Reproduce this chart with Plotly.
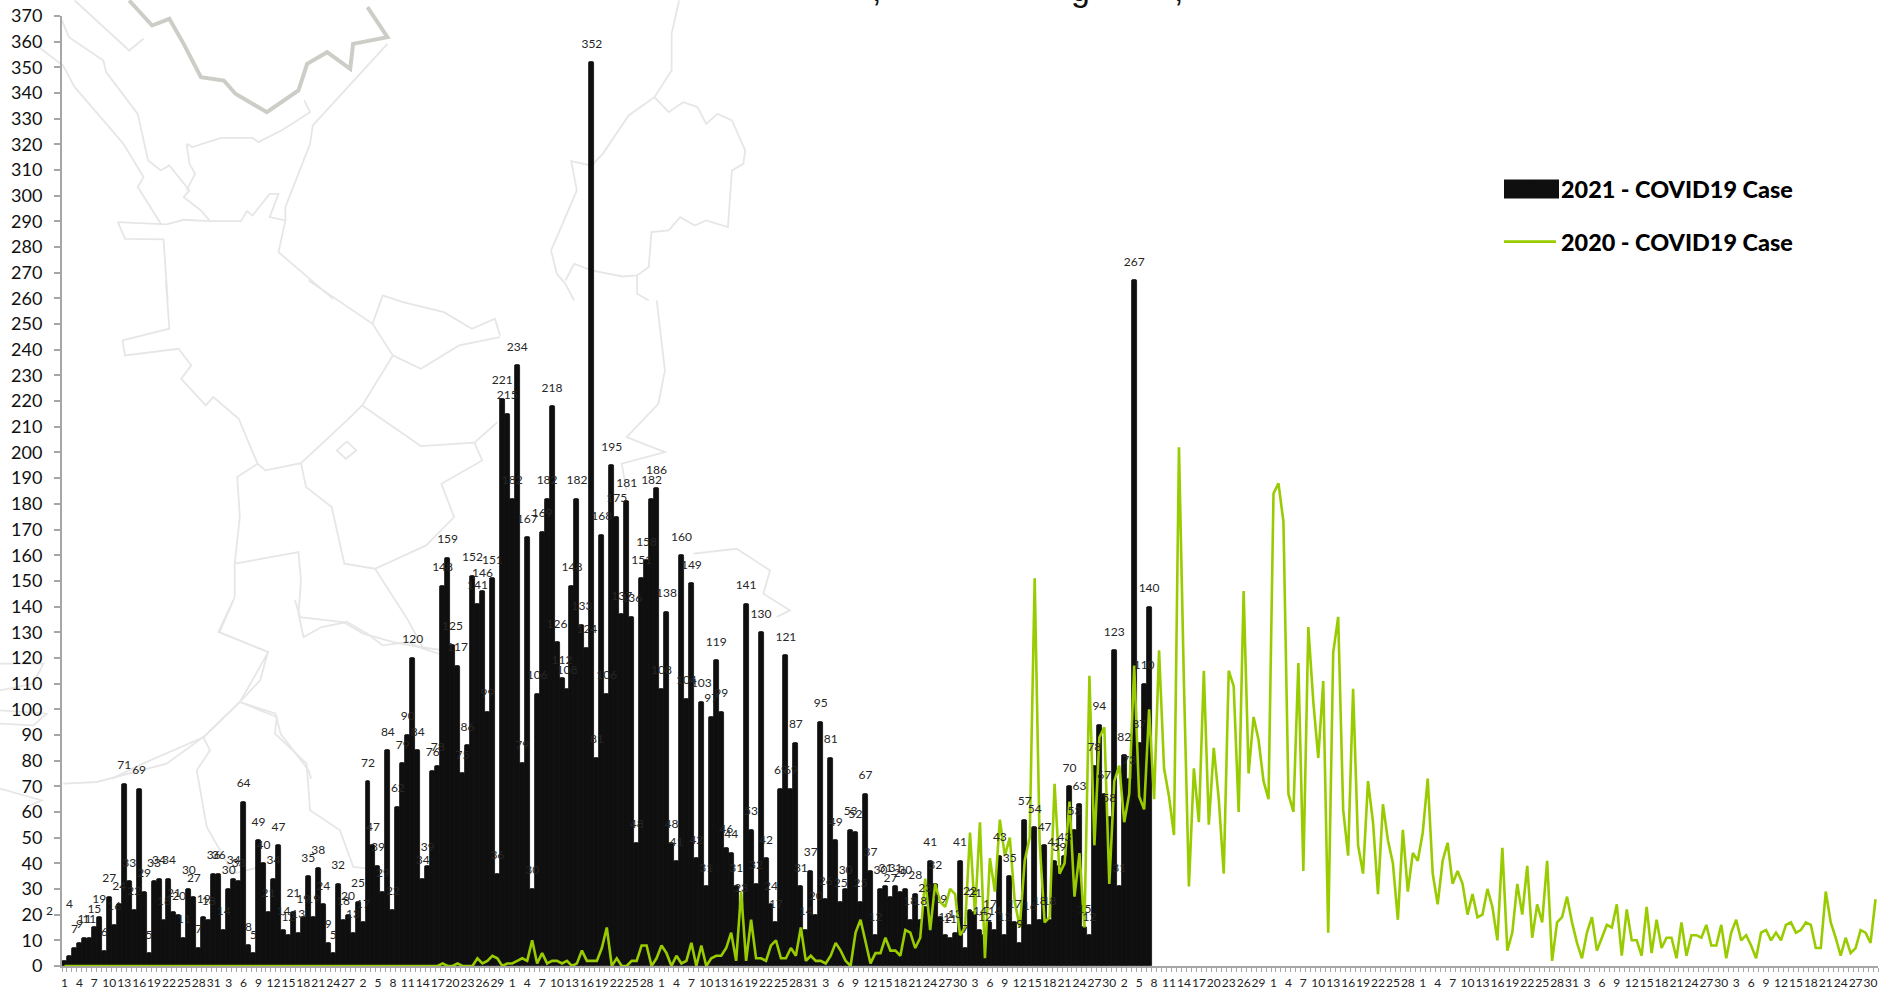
import plotly.graph_objects as go

month_days = [31, 28, 31, 30, 31, 30, 31, 31, 30, 31, 30, 31]

cases_2021 = [
    2, 4, 7, 9, 11, 11, 15, 19, 6, 27, 16, 24, 71, 33, 22, 69, 29, 5, 33, 34,
    18, 34, 21, 20, 11, 30, 27, 7, 19, 18, 36, 36, 14, 30, 34, 33, 64, 8, 5, 49,
    40, 21, 34, 47, 14, 12, 21, 13, 19, 35, 19, 38, 24, 9, 5, 32, 18, 20, 13, 25,
    17, 72, 47, 39, 29, 84, 22, 62, 79, 90, 120, 84, 34, 39, 76, 78, 148, 159, 125, 117,
    75, 86, 152, 141, 146, 99, 151, 36, 221, 215, 182, 234, 79, 167, 30, 106, 169, 182, 218, 126,
    112, 108, 148, 182, 133, 124, 352, 81, 168, 106, 195, 175, 137, 181, 136, 48, 151, 158, 182, 186,
    108, 138, 48, 41, 160, 104, 149, 42, 103, 31, 97, 119, 99, 46, 44, 31, 23, 141, 53, 32,
    130, 42, 24, 17, 69, 121, 69, 87, 31, 14, 37, 20, 95, 26, 81, 49, 25, 30, 53, 52,
    25, 67, 37, 12, 30, 31, 27, 31, 29, 30, 18, 28, 18, 23, 41, 32, 19, 12, 11, 13,
    41, 7, 22, 21, 14, 12, 17, 14, 43, 12, 35, 17, 9, 57, 16, 54, 18, 47, 18, 41,
    39, 43, 70, 53, 63, 15, 12, 78, 94, 67, 58, 123, 31, 82, 73, 267, 87, 110, 140,
]

cases_2020 = [
    0, 0, 0, 0, 0, 0, 0, 0, 0, 0, 0, 0, 0, 0, 0, 0, 0, 0, 0, 0,
    0, 0, 0, 0, 0, 0, 0, 0, 0, 0, 0, 0, 0, 0, 0, 0, 0, 0, 0, 0,
    0, 0, 0, 0, 0, 0, 0, 0, 0, 0, 0, 0, 0, 0, 0, 0, 0, 0, 0, 0,
    0, 0, 0, 0, 0, 0, 0, 0, 0, 0, 0, 0, 0, 0, 0, 0, 1, 0, 0, 1,
    0, 0, 0, 3, 1, 2, 4, 3, 0, 1, 1, 2, 3, 2, 10, 1, 5, 1, 2, 2,
    1, 2, 0, 1, 6, 2, 2, 2, 7, 15, 0, 3, 0, 0, 2, 2, 8, 8, 0, 3,
    8, 5, 0, 4, 1, 2, 9, 0, 8, 0, 3, 4, 4, 7, 13, 2, 29, 2, 18, 3,
    3, 2, 8, 10, 3, 3, 7, 4, 15, 2, 4, 2, 2, 1, 4, 9, 6, 2, 0, 13,
    18, 9, 1, 5, 5, 11, 6, 6, 4, 14, 13, 7, 11, 34, 14, 32, 25, 23, 30, 28,
    12, 15, 52, 20, 56, 3, 42, 29, 57, 43, 50, 25, 15, 41, 50, 151, 48, 17, 19, 71,
    36, 40, 64, 27, 44, 15, 113, 47, 89, 93, 32, 72, 78, 56, 67, 117, 66, 61, 100, 65,
    123, 77, 66, 51, 202, 110, 31, 77, 56, 115, 55, 85, 65, 36, 115, 109, 60, 146, 75, 97,
    88, 72, 65, 184, 188, 173, 67, 60, 118, 37, 132, 103, 81, 111, 13, 122, 136, 61, 43, 108,
    47, 36, 72, 56, 28, 63, 49, 40, 18, 53, 29, 44, 41, 52, 73, 36, 24, 41, 48, 32,
    37, 32, 20, 28, 19, 20, 30, 23, 10, 46, 6, 13, 32, 20, 39, 11, 24, 17, 41, 2,
    17, 19, 27, 17, 9, 3, 13, 19, 6, 11, 16, 15, 24, 4, 22, 10, 10, 4, 23, 5,
    18, 7, 11, 11, 3, 17, 4, 12, 12, 11, 16, 8, 8, 16, 3, 13, 18, 10, 12, 8,
    3, 13, 14, 10, 13, 10, 16, 17, 13, 14, 17, 16, 7, 7, 29, 17, 11, 4, 11, 5,
    7, 14, 13, 9, 26,
]

series_2021 = "2021 - COVID19 Case"
series_2020 = "2020 - COVID19 Case"
title_fragments = [",", "g", ","]

assert len(cases_2021) == 219, len(cases_2021)
assert len(cases_2020) == 365, len(cases_2020)

day_labels = [str(d) for m in month_days for d in range(1, m + 1)]
x = list(range(len(day_labels)))
tick_idx = x[::3]
tick_text = day_labels[::3]

W, H = 1881, 991
L, R, T, B = 62, 1878, 15.5, 965.7


def px(xp):
    return (xp - L) / (R - L)


def py(yp):
    return 1 - (yp - T) / (B - T)


def from_zoom(points, sx, sy, x0=0, y0=0):
    return [(x0 + a / sx, y0 + b / sy) for a, b in points]


def path(points):
    return "M " + " L ".join(f"{px(a):.4f} {py(b):.4f}" for a, b in points)


# Decorative background map outline
z6 = dict(sx=1.742, sy=3)
z11 = dict(sx=1.96, sy=3, y0=280)
z1 = dict(sx=3, sy=3, y0=600)
z2 = dict(sx=3, sy=3, x0=400, y0=300)
map_light = [
    from_zoom(p, **z6) for p in [
        [(108, 60), (120, 110), (180, 180), (185, 215), (240, 340), (258, 480), (280, 510), (295, 495), (330, 570), (320, 590), (350, 630), (365, 660)],
        [(130, 0), (225, 150), (250, 115)],
        [(60, 130), (110, 195), (130, 260), (215, 430), (250, 530), (240, 560), (280, 670)],
        [(205, 665), (290, 672), (320, 658), (365, 662), (420, 662), (430, 632), (440, 645), (470, 580), (485, 580), (470, 650), (497, 660), (485, 755), (580, 895)],
        [(205, 665), (218, 715), (285, 717), (292, 900)],
        [(675, 130), (545, 375), (540, 430), (497, 620), (497, 660)],
        [(325, 430), (335, 440), (385, 412), (440, 412), (450, 425), (490, 390), (540, 335), (530, 300)],
        [(325, 430), (330, 490), (340, 520), (325, 570)],
        [(1183, 0), (1170, 100), (1170, 210), (1140, 290), (1095, 345), (1050, 460), (1030, 495), (995, 482), (1005, 570), (975, 690), (960, 750), (970, 820), (985, 850), (1000, 900)],
        [(1140, 290), (1165, 335), (1190, 305), (1215, 320), (1230, 370), (1250, 340), (1275, 360), (1298, 450), (1295, 490), (1275, 510), (1268, 680), (1230, 660), (1210, 675), (1185, 650), (1165, 690), (1135, 695), (1130, 800), (1110, 825), (1085, 828), (1030, 810), (1000, 790), (985, 840)],
        [(1110, 825), (1110, 880), (1130, 900)],
    ]
] + [
    from_zoom(p, **z11) for p in [
        [(325, 0), (332, 145), (240, 180), (245, 225), (350, 205), (375, 255), (355, 295), (403, 375), (418, 350), (468, 415), (505, 550), (520, 570), (590, 548), (680, 420), (710, 375), (770, 225), (730, 130), (605, 0)],
        [(770, 225), (825, 265), (900, 195), (980, 170)],
        [(730, 130), (750, 45), (790, 65), (870, 95), (925, 145), (970, 115), (980, 165)],
        [(710, 375), (825, 497), (930, 487), (975, 425)],
        [(930, 487), (945, 540), (865, 610), (890, 710), (835, 795), (735, 865), (675, 850), (650, 680), (600, 620), (590, 548)],
        [(505, 550), (465, 590), (470, 710), (460, 850), (585, 815), (590, 900), (585, 1000), (595, 1070), (630, 1040), (680, 1025), (720, 1060), (750, 1095), (800, 1085), (830, 1105), (860, 1120)],
        [(735, 865), (800, 1020), (830, 1105)],
        [(460, 850), (460, 950), (430, 1055), (525, 1115), (510, 1200), (470, 1265), (400, 1370), (280, 1450), (220, 1495)],
        [(470, 1265), (540, 1300), (550, 1360), (605, 1470), (610, 1495)],
        [(680, 483), (698, 510), (678, 535), (660, 510), (680, 483)],
    ]
] + [
    from_zoom(p, **z2) for p in [
        [(770, 0), (795, 210), (775, 310), (680, 410), (795, 455), (665, 490), (680, 570)],
        [(880, 760), (1010, 745), (1110, 810), (1090, 880), (1170, 930), (1130, 950)],
    ]
] + [
    from_zoom(p, **z1) for p in [
        [(190, 550), (290, 545), (500, 490), (610, 410), (720, 305), (805, 155), (655, 95), (700, 0)],
        [(720, 305), (830, 350), (825, 400), (920, 490), (930, 630), (1020, 690), (1060, 800), (1150, 810)],
        [(610, 410), (630, 450), (590, 510), (620, 680), (700, 820), (780, 800)],
        [(0, 190), (130, 190), (100, 250), (0, 270)],
        [(0, 330), (140, 340), (100, 375), (0, 370)],
        [(0, 565), (125, 600), (80, 620)],
        [(885, 0), (900, 50), (1030, 65), (1090, 100), (1180, 125), (1260, 140), (1330, 150)],
    ]
]
map_dark = from_zoom(
    [(225, 0), (265, 75), (295, 55), (320, 130), (350, 230), (390, 240), (410, 280), (465, 335), (520, 270), (535, 190), (570, 155), (610, 205), (615, 130), (675, 110), (640, 20)],
    **z6,
)

shapes = [
    dict(type="path", xref="paper", yref="paper", layer="below", path=path(p),
         line=dict(color="#e6e6e6", width=1.8))
    for p in map_light
]
shapes.append(dict(type="path", xref="paper", yref="paper", layer="below", path=path(map_dark),
                   line=dict(color="#cdcdc7", width=4)))
# wide legend swatch for the bar series
shapes.append(dict(type="rect", xref="paper", yref="paper", layer="above",
                   x0=px(1504), x1=px(1559), y0=py(198), y1=py(179),
                   fillcolor="#0f0f0f", line=dict(color="#0f0f0f", width=0)))

fig = go.Figure()
fig.add_trace(go.Bar(
    x=x[:len(cases_2021)], y=cases_2021, name=series_2021, width=1,
    marker=dict(color="#0f0f0f", line=dict(color="#0f0f0f", width=0.8)),
    hoverinfo="skip", legendgroup="a",
))
fig.add_trace(go.Scatter(
    x=x, y=cases_2020, name=series_2020, mode="lines",
    line=dict(color="#99cc00", width=2.6), hoverinfo="skip", legendgroup="b",
))
labels = [str(v) for v in cases_2021]
labels[0] = labels[1] = ""
fig.add_trace(go.Scatter(
    x=x[:len(cases_2021)], y=cases_2021, mode="markers+text", text=labels,
    textposition="top center", textfont=dict(family="Lato", size=12, color="#262626"),
    marker=dict(size=17, opacity=0), showlegend=False, hoverinfo="skip", cliponaxis=False,
))

annotations = [
    dict(x=x[0], y=cases_2021[0], text=str(cases_2021[0]), showarrow=False, xshift=-15, yshift=50,
         font=dict(family="Lato", size=12, color="#262626")),
    dict(x=x[1], y=cases_2021[1], text=str(cases_2021[1]), showarrow=False, xshift=0, yshift=52,
         font=dict(family="Lato", size=12, color="#262626")),
]
for frag, xpos in zip(title_fragments, [876, 1080, 1178]):
    annotations.append(dict(
        xref="paper", yref="paper", x=px(xpos), y=py(9), xanchor="center", yanchor="bottom",
        text=frag, showarrow=False, font=dict(family="Liberation Sans", size=34, color="#111111"),
    ))

fig.update_layout(
    width=W, height=H, autosize=False,
    margin=dict(l=L, r=W - R, t=T, b=H - B, pad=0, autoexpand=False),
    paper_bgcolor="white", plot_bgcolor="rgba(0,0,0,0)",
    bargap=0, barcornerradius=2,
    xaxis=dict(
        automargin=False,
        range=[-0.5, 364.5], tickmode="array", tickvals=tick_idx, ticktext=tick_text, tickangle=0,
        ticks="", showgrid=False, zeroline=False, showline=True, linecolor="#a6a6a6", linewidth=2,
        tickfont=dict(family="Lato", size=12, color="#222222"), ticklabelstandoff=5,
        minor=dict(tickmode="linear", tick0=-0.5, dtick=1, ticks="outside", ticklen=4, tickwidth=1.2,
                   tickcolor="#a6a6a6", showgrid=False),
    ),
    yaxis=dict(
        automargin=False,
        range=[0, 370], dtick=10, tick0=0, ticks="outside", ticklen=6, tickwidth=1.5, tickcolor="#a6a6a6",
        showgrid=False, zeroline=False, showline=True, linecolor="#a6a6a6", linewidth=2,
        tickfont=dict(family="Lato", size=18, color="#111111"), ticklabelstandoff=8,
    ),
    legend=dict(
        x=px(1499), y=py(167), xanchor="left", yanchor="top", bgcolor="rgba(0,0,0,0)",
        font=dict(family="Lato", size=23.4, color="#000000", weight=900),
        itemwidth=52, itemclick=False, itemdoubleclick=False, tracegroupgap=19,
    ),
    shapes=shapes, annotations=annotations, showlegend=True,
)

fig.write_html("out.html", config={"displayModeBar": False},
               post_script="document.body.style.margin='0';document.body.style.overflow='hidden';")
